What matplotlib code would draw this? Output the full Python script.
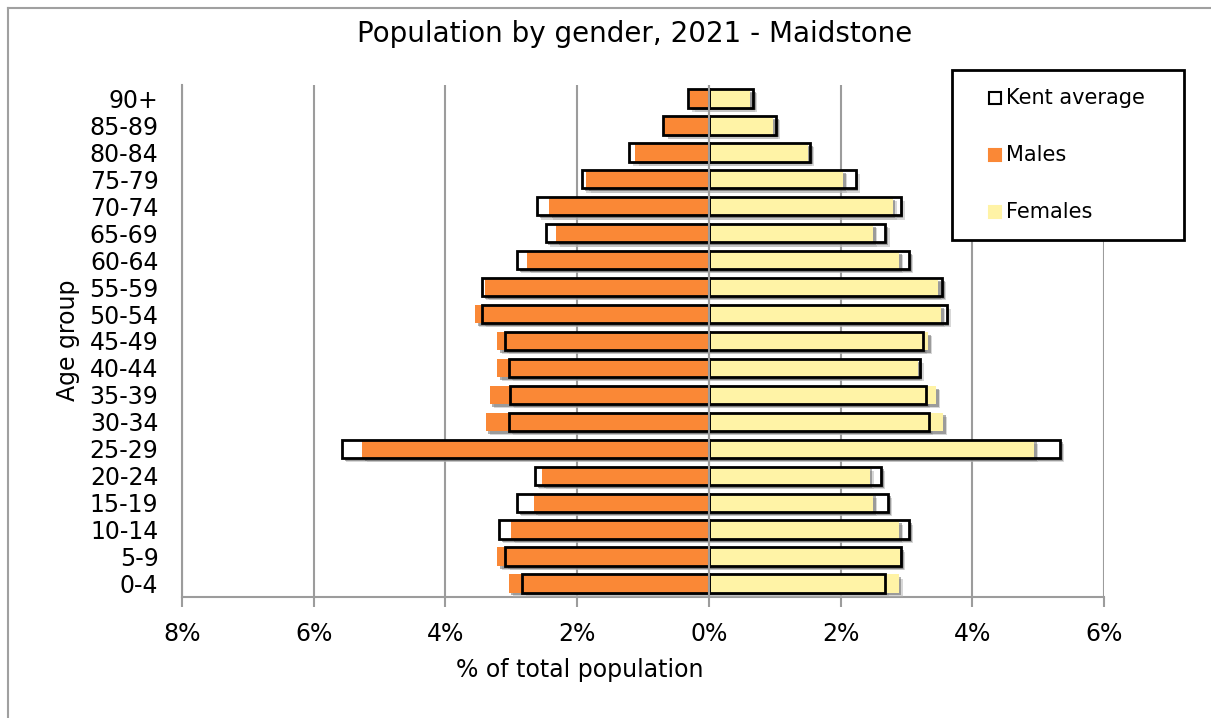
import matplotlib.pyplot as plt
import matplotlib.patheffects as pe
from matplotlib.patches import Rectangle
from matplotlib.lines import Line2D

ages = ['0-4', '5-9', '10-14', '15-19', '20-24', '25-29', '30-34', '35-39', '40-44',
        '45-49', '50-54', '55-59', '60-64', '65-69', '70-74', '75-79', '80-84', '85-89', '90+']
# % of total population, Maidstone
males = [3.04, 3.21, 3.00, 2.66, 2.54, 5.26, 3.39, 3.33, 3.21, 3.21,
         3.55, 3.40, 2.76, 2.32, 2.43, 1.86, 1.12, 0.68, 0.28]
females = [2.88, 2.90, 2.89, 2.49, 2.44, 4.94, 3.56, 3.45, 3.17, 3.33,
           3.53, 3.48, 2.89, 2.49, 2.79, 2.04, 1.51, 0.98, 0.63]
# Kent average
kent_males = [2.84, 3.09, 3.19, 2.91, 2.64, 5.57, 3.03, 3.02, 3.03, 3.10,
              3.44, 3.44, 2.91, 2.48, 2.61, 1.93, 1.22, 0.69, 0.32]
kent_females = [2.67, 2.92, 3.04, 2.72, 2.61, 5.33, 3.34, 3.30, 3.20, 3.25,
                3.61, 3.54, 3.04, 2.68, 2.91, 2.23, 1.54, 1.02, 0.67]
xticks = [-8, -6, -4, -2, 0, 2, 4, 6]

ORANGE = '#FA8836'
YELLOW = '#FFF3A6'
GRID = '#9c9c9c'

W, H = 1211, 718
fig = plt.figure(figsize=(W / 100, H / 100), dpi=100)
ax = fig.add_axes([182 / W, 1 - 597 / H, (1104 - 182) / W, (597 - 85) / H])

y = list(range(len(ages)))
h = 0.68
# soft drop shadow, roughly like the spreadsheet style
shadow = [pe.SimplePatchShadow(offset=(3, -3), shadow_rgbFace='#b0b0b0', alpha=0.5),
          pe.SimplePatchShadow(offset=(2, -2), shadow_rgbFace='#606060', alpha=0.5),
          pe.Normal()]

neg_km = [-v for v in kent_males]
neg_m = [-v for v in males]

# white fill behind Kent outlines
for vals in (neg_km, kent_females):
    bars = ax.barh(y, vals, height=h, color='white', zorder=2)
    for b in bars:
        b.set_path_effects(shadow)

mb = ax.barh(y, neg_m, height=h, color=ORANGE, zorder=3)
fb = ax.barh(y, females, height=h, color=YELLOW, zorder=3)
for b in list(mb) + list(fb):
    b.set_path_effects(shadow)

# Kent average outlines on top
ax.barh(y, neg_km, height=h, facecolor='none', edgecolor='black', linewidth=2, zorder=4)
ax.barh(y, kent_females, height=h, facecolor='none', edgecolor='black', linewidth=2, zorder=4)

ax.axvline(0, color=GRID, linewidth=1.5, zorder=5)

ax.set_xlim(-8, 6)
ax.set_ylim(-0.5, len(ages) - 0.5)
ax.set_xticks(xticks)
ax.set_xticklabels([f"{abs(v)}%" for v in xticks])
ax.set_yticks(y)
ax.set_yticklabels(ages)
ax.tick_params(axis='x', labelsize=17, length=7, width=1.5, color=GRID, pad=11)
ax.tick_params(axis='y', labelsize=17, length=0, pad=17)
ax.xaxis.grid(True, color=GRID, linewidth=1.5, zorder=0)
ax.set_axisbelow(True)
for s in ('top', 'right'):
    ax.spines[s].set_visible(False)
for s in ('left', 'bottom'):
    ax.spines[s].set_color(GRID)
    ax.spines[s].set_linewidth(1.5)

fig.text(634.5 / W, 1 - 34 / H, 'Population by gender, 2021 - Maidstone',
         fontsize=20, ha='center', va='center')
fig.text(580 / W, 1 - 670 / H, '% of total population', fontsize=17, ha='center', va='center')
fig.text(68 / W, 1 - 340 / H, 'Age group', fontsize=17, rotation=90, ha='center', va='center')

# legend box drawn by hand
fig.add_artist(Rectangle((952 / W, 1 - 240 / H), (1184 - 952) / W, (240 - 70) / H,
                         transform=fig.transFigure, facecolor='white', edgecolor='black',
                         linewidth=2, zorder=10))
entries = [('Kent average', 'white', 'black'), ('Males', ORANGE, ORANGE), ('Females', YELLOW, YELLOW)]
for i, (lab, fc, ec) in enumerate(entries):
    cy = 98 + i * 57
    fig.add_artist(Rectangle((989 / W, 1 - (cy + 6) / H), 12 / W, 12 / H,
                             transform=fig.transFigure, facecolor=fc, edgecolor=ec,
                             linewidth=1.5, zorder=11))
    fig.text(1006 / W, 1 - cy / H, lab, fontsize=15, ha='left', va='center', zorder=11)

# outer chart border (top and left only)
fig.add_artist(Line2D([8 / W, 1], [1 - 8 / H, 1 - 8 / H], color='#a0a0a0', linewidth=1.5,
                      transform=fig.transFigure))
fig.add_artist(Line2D([8 / W, 8 / W], [0, 1 - 8 / H], color='#a0a0a0', linewidth=1.5,
                      transform=fig.transFigure))

fig.savefig('out.png', dpi=100)
